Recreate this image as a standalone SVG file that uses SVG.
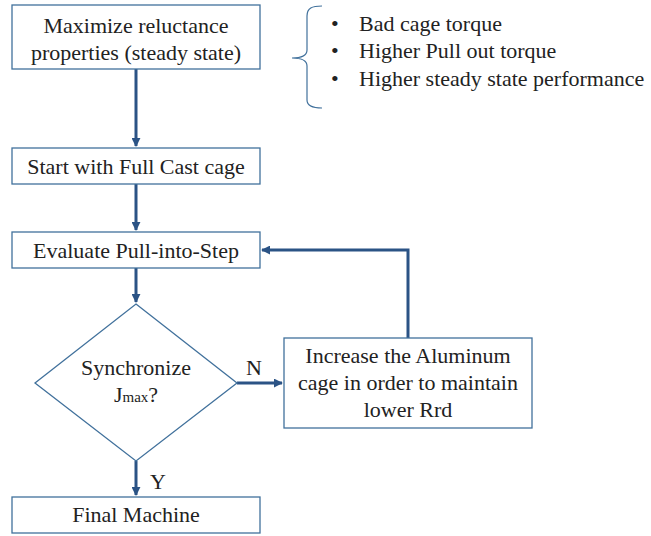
<svg xmlns="http://www.w3.org/2000/svg" width="651" height="536" viewBox="0 0 651 536">
<style>
.box{fill:#fff;stroke:#41719c;stroke-width:1.3}
.t{font-family:"Liberation Serif","Times New Roman",serif;font-size:22px;fill:#222;text-anchor:middle}
.b{font-family:"Liberation Serif","Times New Roman",serif;font-size:22px;fill:#222}
.c{fill:none;stroke:#2b5385;stroke-width:3}
</style>
<defs>
<marker id="ah" viewBox="0 0 10 10" refX="9" refY="5" markerWidth="3" markerHeight="3" orient="auto" markerUnits="strokeWidth">
<path d="M0,0 L10,5 L0,10 z" fill="#2b5385"/>
</marker>
</defs>
<g id="connectors">
<path class="c" d="M136,69 V146" marker-end="url(#ah)"/>
<path class="c" d="M136,184 V230" marker-end="url(#ah)"/>
<path class="c" d="M136,268 V302" marker-end="url(#ah)"/>
<path class="c" d="M237,383 H282" marker-end="url(#ah)"/>
<path class="c" d="M136,461 V495" marker-end="url(#ah)"/>
<path class="c" d="M408,338 V250 H262" marker-end="url(#ah)"/>
<text class="t" x="254" y="375">N</text>
<text class="t" x="158" y="489">Y</text>
</g>
<g id="n1">
<rect class="box" x="12" y="5" width="248" height="64"/>
<text class="t" x="136" y="33">Maximize reluctance</text>
<text class="t" x="136" y="60">properties (steady state)</text>
</g>
<g id="brace">
<path d="M322,6 C312,6 307,8 307,16 V50 C307,56 302,58 292,58 C302,58 307,60 307,66 V100 C307,106 312,108 322,108" fill="none" stroke="#41719c" stroke-width="1.2"/>
<text class="b" x="331" y="31">•</text>
<text class="b" x="359" y="31">Bad cage torque</text>
<text class="b" x="331" y="58">•</text>
<text class="b" x="359" y="58">Higher Pull out torque</text>
<text class="b" x="331" y="86">•</text>
<text class="b" x="359" y="86">Higher steady state performance</text>
</g>
<g id="n2">
<rect class="box" x="12" y="148" width="248" height="36"/>
<text class="t" x="136" y="174">Start with Full Cast cage</text>
</g>
<g id="n3">
<rect class="box" x="12" y="232" width="248" height="36"/>
<text class="t" x="136" y="258">Evaluate Pull-into-Step</text>
</g>
<g id="n4">
<polygon class="box" points="136,304 237,383 136,461 35,383"/>
<text class="t" x="136" y="375">Synchronize</text>
<text class="t" x="136" y="402">J<tspan font-size="15">max</tspan>?</text>
</g>
<g id="n5">
<rect class="box" x="284" y="338" width="248" height="90"/>
<text class="t" x="408" y="363">Increase the Aluminum</text>
<text class="t" x="408" y="390">cage in order to maintain</text>
<text class="t" x="408" y="417">lower Rrd</text>
</g>
<g id="n6">
<rect class="box" x="12" y="497" width="248" height="36"/>
<text class="t" x="136" y="522">Final Machine</text>
</g>
</svg>
